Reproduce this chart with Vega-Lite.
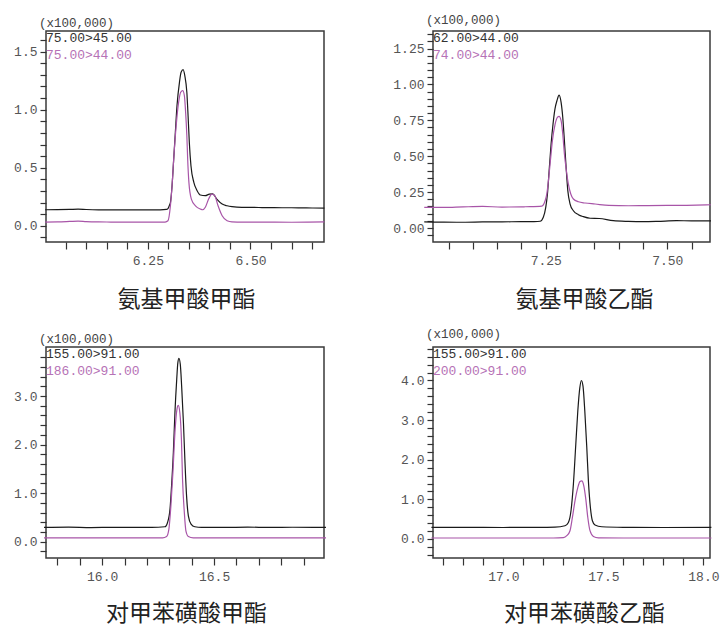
{
  "$schema": "https://vega.github.io/schema/vega-lite/v6.json",
  "background": "white",
  "padding": {"left": 5, "top": 12, "right": 0, "bottom": 0},
  "columns": 2,
  "spacing": {"row": 15, "column": 62},
  "resolve": {"scale": {"color": "independent"}, "legend": {"color": "independent"}},
  "config": {
    "view": {"stroke": "#3a3a3a", "strokeWidth": 1.5},
    "axis": {"grid": false, "domain": false, "tickColor": "#333333", "tickWidth": 1.2, "labelFont": "Liberation Mono", "labelFontSize": 13, "labelColor": "#555555", "labelOverlap": false, "titleFont": "Noto Sans CJK SC", "titleFontWeight": "normal", "titleColor": "#222222"},
    "axisY": {"minExtent": 40, "maxExtent": 40, "tickSize": 6, "labelPadding": 3, "title": null},
    "axisX": {"tickSize": 7, "labelPadding": 5, "titleFontSize": 23},
    "title": {"font": "Liberation Mono", "fontSize": 12.5, "fontWeight": "normal", "color": "#444444", "anchor": "start", "frame": "group", "dx": -7, "offset": 2},
    "legend": {"orient": "top-left", "offset": 0, "padding": 0, "symbolType": "circle", "symbolOpacity": 0, "symbolSize": 0, "symbolStrokeWidth": 0, "labelOffset": -13, "labelFont": "Liberation Mono", "labelFontSize": 13, "rowPadding": 3},
    "line": {"strokeWidth": 1.2, "interpolate": "monotone", "clip": true}
  },
  "concat": [
    {
      "width": 278, "height": 211,
      "title": "(x100,000)",
      "data": {"values": [
        {"t": 6.0, "v": 0.138, "s": "75.00>45.00"}, {"t": 6.03, "v": 0.139, "s": "75.00>45.00"}, {"t": 6.06, "v": 0.141, "s": "75.00>45.00"}, {"t": 6.08, "v": 0.143, "s": "75.00>45.00"}, {"t": 6.10, "v": 0.140, "s": "75.00>45.00"}, {"t": 6.13, "v": 0.137, "s": "75.00>45.00"}, {"t": 6.16, "v": 0.136, "s": "75.00>45.00"}, {"t": 6.19, "v": 0.137, "s": "75.00>45.00"}, {"t": 6.22, "v": 0.136, "s": "75.00>45.00"}, {"t": 6.25, "v": 0.136, "s": "75.00>45.00"}, {"t": 6.28, "v": 0.137, "s": "75.00>45.00"}, {"t": 6.295, "v": 0.141, "s": "75.00>45.00"}, {"t": 6.299, "v": 0.148, "s": "75.00>45.00"}, {"t": 6.303, "v": 0.18, "s": "75.00>45.00"}, {"t": 6.305, "v": 0.20, "s": "75.00>45.00"}, {"t": 6.309, "v": 0.345, "s": "75.00>45.00"}, {"t": 6.313, "v": 0.575, "s": "75.00>45.00"}, {"t": 6.317, "v": 0.805, "s": "75.00>45.00"}, {"t": 6.321, "v": 1.034, "s": "75.00>45.00"}, {"t": 6.327, "v": 1.236, "s": "75.00>45.00"}, {"t": 6.331, "v": 1.322, "s": "75.00>45.00"}, {"t": 6.336, "v": 1.345, "s": "75.00>45.00"}, {"t": 6.340, "v": 1.293, "s": "75.00>45.00"}, {"t": 6.345, "v": 1.15, "s": "75.00>45.00"}, {"t": 6.348, "v": 0.948, "s": "75.00>45.00"}, {"t": 6.351, "v": 0.719, "s": "75.00>45.00"}, {"t": 6.355, "v": 0.517, "s": "75.00>45.00"}, {"t": 6.362, "v": 0.374, "s": "75.00>45.00"}, {"t": 6.370, "v": 0.302, "s": "75.00>45.00"}, {"t": 6.378, "v": 0.265, "s": "75.00>45.00"}, {"t": 6.390, "v": 0.259, "s": "75.00>45.00"}, {"t": 6.400, "v": 0.273, "s": "75.00>45.00"}, {"t": 6.408, "v": 0.275, "s": "75.00>45.00"}, {"t": 6.418, "v": 0.23, "s": "75.00>45.00"}, {"t": 6.431, "v": 0.187, "s": "75.00>45.00"}, {"t": 6.443, "v": 0.172, "s": "75.00>45.00"}, {"t": 6.455, "v": 0.164, "s": "75.00>45.00"}, {"t": 6.479, "v": 0.158, "s": "75.00>45.00"}, {"t": 6.50, "v": 0.158, "s": "75.00>45.00"}, {"t": 6.528, "v": 0.157, "s": "75.00>45.00"}, {"t": 6.55, "v": 0.156, "s": "75.00>45.00"}, {"t": 6.577, "v": 0.155, "s": "75.00>45.00"}, {"t": 6.60, "v": 0.155, "s": "75.00>45.00"}, {"t": 6.625, "v": 0.154, "s": "75.00>45.00"}, {"t": 6.65, "v": 0.153, "s": "75.00>45.00"}, {"t": 6.68, "v": 0.152, "s": "75.00>45.00"},
        {"t": 6.0, "v": 0.032, "s": "75.00>44.00"}, {"t": 6.03, "v": 0.033, "s": "75.00>44.00"}, {"t": 6.06, "v": 0.037, "s": "75.00>44.00"}, {"t": 6.08, "v": 0.040, "s": "75.00>44.00"}, {"t": 6.10, "v": 0.036, "s": "75.00>44.00"}, {"t": 6.13, "v": 0.033, "s": "75.00>44.00"}, {"t": 6.16, "v": 0.032, "s": "75.00>44.00"}, {"t": 6.19, "v": 0.031, "s": "75.00>44.00"}, {"t": 6.22, "v": 0.031, "s": "75.00>44.00"}, {"t": 6.25, "v": 0.031, "s": "75.00>44.00"}, {"t": 6.28, "v": 0.031, "s": "75.00>44.00"}, {"t": 6.292, "v": 0.032, "s": "75.00>44.00"}, {"t": 6.299, "v": 0.043, "s": "75.00>44.00"}, {"t": 6.305, "v": 0.172, "s": "75.00>44.00"}, {"t": 6.309, "v": 0.345, "s": "75.00>44.00"}, {"t": 6.313, "v": 0.575, "s": "75.00>44.00"}, {"t": 6.319, "v": 0.862, "s": "75.00>44.00"}, {"t": 6.325, "v": 1.064, "s": "75.00>44.00"}, {"t": 6.330, "v": 1.15, "s": "75.00>44.00"}, {"t": 6.335, "v": 1.164, "s": "75.00>44.00"}, {"t": 6.339, "v": 1.12, "s": "75.00>44.00"}, {"t": 6.342, "v": 0.978, "s": "75.00>44.00"}, {"t": 6.345, "v": 0.776, "s": "75.00>44.00"}, {"t": 6.347, "v": 0.575, "s": "75.00>44.00"}, {"t": 6.350, "v": 0.374, "s": "75.00>44.00"}, {"t": 6.356, "v": 0.23, "s": "75.00>44.00"}, {"t": 6.366, "v": 0.172, "s": "75.00>44.00"}, {"t": 6.378, "v": 0.144, "s": "75.00>44.00"}, {"t": 6.384, "v": 0.138, "s": "75.00>44.00"}, {"t": 6.390, "v": 0.159, "s": "75.00>44.00"}, {"t": 6.398, "v": 0.23, "s": "75.00>44.00"}, {"t": 6.406, "v": 0.273, "s": "75.00>44.00"}, {"t": 6.413, "v": 0.259, "s": "75.00>44.00"}, {"t": 6.421, "v": 0.172, "s": "75.00>44.00"}, {"t": 6.431, "v": 0.086, "s": "75.00>44.00"}, {"t": 6.443, "v": 0.043, "s": "75.00>44.00"}, {"t": 6.455, "v": 0.033, "s": "75.00>44.00"}, {"t": 6.48, "v": 0.031, "s": "75.00>44.00"}, {"t": 6.52, "v": 0.031, "s": "75.00>44.00"}, {"t": 6.56, "v": 0.031, "s": "75.00>44.00"}, {"t": 6.60, "v": 0.030, "s": "75.00>44.00"}, {"t": 6.64, "v": 0.031, "s": "75.00>44.00"}, {"t": 6.68, "v": 0.033, "s": "75.00>44.00"}
      ]},
      "mark": {"type": "line"},
      "encoding": {
        "x": {"field": "t", "type": "quantitative", "scale": {"domain": [6.002, 6.679], "nice": false, "zero": false},
              "axis": {"values": [6.05, 6.1, 6.15, 6.2, 6.25, 6.3, 6.35, 6.4, 6.45, 6.5, 6.55, 6.6, 6.65], "format": ".2f",
                       "labelExpr": "abs(datum.value*4 - round(datum.value*4)) < 0.001 ? datum.label : ''",
                       "encode": {"ticks": {"y2": {"condition": {"test": "abs(datum.value*4 - round(datum.value*4)) < 0.001", "value": 7}, "value": 4.5}}},
                       "title": "氨基甲酸甲酯", "titlePadding": 21, "titleX": 140}},
        "y": {"field": "v", "type": "quantitative", "scale": {"domain": [-0.14, 1.678], "nice": false, "zero": false},
              "axis": {"values": [-0.1, 0, 0.1, 0.2, 0.3, 0.4, 0.5, 0.6, 0.7, 0.8, 0.9, 1.0, 1.1, 1.2, 1.3, 1.4, 1.5, 1.6], "format": ".1f",
                       "labelExpr": "abs(datum.value*2 - round(datum.value*2)) < 0.001 ? datum.label : ''",
                       "encode": {"ticks": {"x2": {"condition": {"test": "abs(datum.value*2 - round(datum.value*2)) < 0.001", "value": -6}, "value": -3.5}}}}},
        "color": {"field": "s", "type": "nominal", "scale": {"domain": ["75.00>45.00", "75.00>44.00"], "range": ["#1a1a1a", "#a855a8"]},
                  "legend": {"title": null, "labelColor": {"expr": "datum.value === '75.00>45.00' ? '#333333' : '#b672b6'"}}}
      }
    },
    {
      "width": 277, "height": 211,
      "title": "(x100,000)",
      "data": {"values": [
        {"t": 7.0, "v": 0.042, "s": "62.00>44.00"}, {"t": 7.04, "v": 0.041, "s": "62.00>44.00"}, {"t": 7.08, "v": 0.040, "s": "62.00>44.00"}, {"t": 7.12, "v": 0.042, "s": "62.00>44.00"}, {"t": 7.16, "v": 0.043, "s": "62.00>44.00"}, {"t": 7.20, "v": 0.044, "s": "62.00>44.00"}, {"t": 7.225, "v": 0.045, "s": "62.00>44.00"}, {"t": 7.2385, "v": 0.047, "s": "62.00>44.00"}, {"t": 7.245, "v": 0.075, "s": "62.00>44.00"}, {"t": 7.250, "v": 0.144, "s": "62.00>44.00"}, {"t": 7.2535, "v": 0.237, "s": "62.00>44.00"}, {"t": 7.257, "v": 0.40, "s": "62.00>44.00"}, {"t": 7.261, "v": 0.585, "s": "62.00>44.00"}, {"t": 7.265, "v": 0.724, "s": "62.00>44.00"}, {"t": 7.269, "v": 0.829, "s": "62.00>44.00"}, {"t": 7.2734, "v": 0.891, "s": "62.00>44.00"}, {"t": 7.2775, "v": 0.926, "s": "62.00>44.00"}, {"t": 7.2816, "v": 0.875, "s": "62.00>44.00"}, {"t": 7.285, "v": 0.771, "s": "62.00>44.00"}, {"t": 7.2884, "v": 0.608, "s": "62.00>44.00"}, {"t": 7.2919, "v": 0.423, "s": "62.00>44.00"}, {"t": 7.2954, "v": 0.26, "s": "62.00>44.00"}, {"t": 7.3001, "v": 0.167, "s": "62.00>44.00"}, {"t": 7.3069, "v": 0.12, "s": "62.00>44.00"}, {"t": 7.3172, "v": 0.093, "s": "62.00>44.00"}, {"t": 7.3274, "v": 0.079, "s": "62.00>44.00"}, {"t": 7.3412, "v": 0.068, "s": "62.00>44.00"}, {"t": 7.36, "v": 0.066, "s": "62.00>44.00"}, {"t": 7.389, "v": 0.051, "s": "62.00>44.00"}, {"t": 7.42, "v": 0.046, "s": "62.00>44.00"}, {"t": 7.45, "v": 0.044, "s": "62.00>44.00"}, {"t": 7.48, "v": 0.046, "s": "62.00>44.00"}, {"t": 7.519, "v": 0.051, "s": "62.00>44.00"}, {"t": 7.55, "v": 0.050, "s": "62.00>44.00"}, {"t": 7.59, "v": 0.050, "s": "62.00>44.00"},
        {"t": 7.0, "v": 0.144, "s": "74.00>44.00"}, {"t": 7.04, "v": 0.143, "s": "74.00>44.00"}, {"t": 7.08, "v": 0.147, "s": "74.00>44.00"}, {"t": 7.12, "v": 0.150, "s": "74.00>44.00"}, {"t": 7.16, "v": 0.146, "s": "74.00>44.00"}, {"t": 7.20, "v": 0.147, "s": "74.00>44.00"}, {"t": 7.2077, "v": 0.148, "s": "74.00>44.00"}, {"t": 7.242, "v": 0.153, "s": "74.00>44.00"}, {"t": 7.2487, "v": 0.19, "s": "74.00>44.00"}, {"t": 7.2522, "v": 0.237, "s": "74.00>44.00"}, {"t": 7.2555, "v": 0.329, "s": "74.00>44.00"}, {"t": 7.2596, "v": 0.469, "s": "74.00>44.00"}, {"t": 7.2637, "v": 0.608, "s": "74.00>44.00"}, {"t": 7.2693, "v": 0.724, "s": "74.00>44.00"}, {"t": 7.274, "v": 0.771, "s": "74.00>44.00"}, {"t": 7.2775, "v": 0.778, "s": "74.00>44.00"}, {"t": 7.2816, "v": 0.747, "s": "74.00>44.00"}, {"t": 7.285, "v": 0.655, "s": "74.00>44.00"}, {"t": 7.2884, "v": 0.515, "s": "74.00>44.00"}, {"t": 7.2925, "v": 0.399, "s": "74.00>44.00"}, {"t": 7.2966, "v": 0.306, "s": "74.00>44.00"}, {"t": 7.3015, "v": 0.237, "s": "74.00>44.00"}, {"t": 7.3069, "v": 0.202, "s": "74.00>44.00"}, {"t": 7.3172, "v": 0.183, "s": "74.00>44.00"}, {"t": 7.3309, "v": 0.174, "s": "74.00>44.00"}, {"t": 7.3515, "v": 0.167, "s": "74.00>44.00"}, {"t": 7.38, "v": 0.157, "s": "74.00>44.00"}, {"t": 7.42, "v": 0.155, "s": "74.00>44.00"}, {"t": 7.46, "v": 0.156, "s": "74.00>44.00"}, {"t": 7.50, "v": 0.157, "s": "74.00>44.00"}, {"t": 7.54, "v": 0.158, "s": "74.00>44.00"}, {"t": 7.59, "v": 0.162, "s": "74.00>44.00"}
      ]},
      "mark": {"type": "line"},
      "encoding": {
        "x": {"field": "t", "type": "quantitative", "scale": {"domain": [7.018, 7.588], "nice": false, "zero": false},
              "axis": {"values": [7.05, 7.1, 7.15, 7.2, 7.25, 7.3, 7.35, 7.4, 7.45, 7.5, 7.55], "format": ".2f",
                       "labelExpr": "abs(datum.value*4 - round(datum.value*4)) < 0.001 ? datum.label : ''",
                       "encode": {"ticks": {"y2": {"condition": {"test": "abs(datum.value*4 - round(datum.value*4)) < 0.001", "value": 7}, "value": 4.5}}},
                       "title": "氨基甲酸乙酯", "titlePadding": 21, "titleX": 151}},
        "y": {"field": "v", "type": "quantitative", "scale": {"domain": [-0.0975, 1.372], "nice": false, "zero": false},
              "axis": {"values": [-0.05, 0, 0.05, 0.1, 0.15, 0.2, 0.25, 0.3, 0.35, 0.4, 0.45, 0.5, 0.55, 0.6, 0.65, 0.7, 0.75, 0.8, 0.85, 0.9, 0.95, 1.0, 1.05, 1.1, 1.15, 1.2, 1.25, 1.3, 1.35], "format": ".2f",
                       "labelExpr": "abs(datum.value*4 - round(datum.value*4)) < 0.001 ? datum.label : ''",
                       "encode": {"ticks": {"x2": {"condition": {"test": "abs(datum.value*4 - round(datum.value*4)) < 0.001", "value": -6}, "value": -3.5}}}}},
        "color": {"field": "s", "type": "nominal", "scale": {"domain": ["62.00>44.00", "74.00>44.00"], "range": ["#1a1a1a", "#a855a8"]},
                  "legend": {"title": null, "labelColor": {"expr": "datum.value === '62.00>44.00' ? '#333333' : '#b672b6'"}}}
      }
    },
    {
      "width": 278, "height": 211,
      "title": "(x100,000)",
      "data": {"values": [
        {"t": 15.74, "v": 0.294, "s": "155.00>91.00"}, {"t": 15.85, "v": 0.300, "s": "155.00>91.00"}, {"t": 15.95, "v": 0.292, "s": "155.00>91.00"}, {"t": 16.05, "v": 0.296, "s": "155.00>91.00"}, {"t": 16.15, "v": 0.294, "s": "155.00>91.00"}, {"t": 16.221, "v": 0.294, "s": "155.00>91.00"}, {"t": 16.280, "v": 0.308, "s": "155.00>91.00"}, {"t": 16.292, "v": 0.397, "s": "155.00>91.00"}, {"t": 16.303, "v": 0.672, "s": "155.00>91.00"}, {"t": 16.310, "v": 1.15, "s": "155.00>91.00"}, {"t": 16.318, "v": 1.835, "s": "155.00>91.00"}, {"t": 16.325, "v": 2.657, "s": "155.00>91.00"}, {"t": 16.333, "v": 3.343, "s": "155.00>91.00"}, {"t": 16.338, "v": 3.684, "s": "155.00>91.00"}, {"t": 16.343, "v": 3.774, "s": "155.00>91.00"}, {"t": 16.349, "v": 3.651, "s": "155.00>91.00"}, {"t": 16.355, "v": 3.205, "s": "155.00>91.00"}, {"t": 16.363, "v": 2.451, "s": "155.00>91.00"}, {"t": 16.370, "v": 1.629, "s": "155.00>91.00"}, {"t": 16.377, "v": 0.945, "s": "155.00>91.00"}, {"t": 16.385, "v": 0.534, "s": "155.00>91.00"}, {"t": 16.397, "v": 0.364, "s": "155.00>91.00"}, {"t": 16.414, "v": 0.308, "s": "155.00>91.00"}, {"t": 16.444, "v": 0.294, "s": "155.00>91.00"}, {"t": 16.55, "v": 0.295, "s": "155.00>91.00"}, {"t": 16.65, "v": 0.300, "s": "155.00>91.00"}, {"t": 16.75, "v": 0.294, "s": "155.00>91.00"}, {"t": 16.85, "v": 0.298, "s": "155.00>91.00"}, {"t": 17.0, "v": 0.294, "s": "155.00>91.00"},
        {"t": 15.74, "v": 0.078, "s": "186.00>91.00"}, {"t": 16.0, "v": 0.078, "s": "186.00>91.00"}, {"t": 16.2, "v": 0.078, "s": "186.00>91.00"}, {"t": 16.27, "v": 0.080, "s": "186.00>91.00"}, {"t": 16.288, "v": 0.109, "s": "186.00>91.00"}, {"t": 16.298, "v": 0.26, "s": "186.00>91.00"}, {"t": 16.307, "v": 0.74, "s": "186.00>91.00"}, {"t": 16.316, "v": 1.424, "s": "186.00>91.00"}, {"t": 16.325, "v": 2.246, "s": "186.00>91.00"}, {"t": 16.334, "v": 2.726, "s": "186.00>91.00"}, {"t": 16.340, "v": 2.808, "s": "186.00>91.00"}, {"t": 16.347, "v": 2.657, "s": "186.00>91.00"}, {"t": 16.354, "v": 2.11, "s": "186.00>91.00"}, {"t": 16.359, "v": 1.288, "s": "186.00>91.00"}, {"t": 16.367, "v": 0.602, "s": "186.00>91.00"}, {"t": 16.374, "v": 0.226, "s": "186.00>91.00"}, {"t": 16.385, "v": 0.109, "s": "186.00>91.00"}, {"t": 16.407, "v": 0.080, "s": "186.00>91.00"}, {"t": 16.6, "v": 0.078, "s": "186.00>91.00"}, {"t": 17.0, "v": 0.078, "s": "186.00>91.00"}
      ]},
      "mark": {"type": "line"},
      "encoding": {
        "x": {"field": "t", "type": "quantitative", "scale": {"domain": [15.749, 16.991], "nice": false, "zero": false},
              "axis": {"values": [15.8, 15.9, 16.0, 16.1, 16.2, 16.3, 16.4, 16.5, 16.6, 16.7, 16.8, 16.9], "format": ".1f",
                       "labelExpr": "abs(datum.value*2 - round(datum.value*2)) < 0.001 ? datum.label : ''",
                       "encode": {"ticks": {"y2": {"condition": {"test": "abs(datum.value*2 - round(datum.value*2)) < 0.001", "value": 7}, "value": 4.5}}},
                       "title": "对甲苯磺酸甲酯", "titlePadding": 19, "titleX": 140}},
        "y": {"field": "v", "type": "quantitative", "scale": {"domain": [-0.335, 4.01], "nice": false, "zero": false},
              "axis": {"values": [-0.2, 0, 0.2, 0.4, 0.6, 0.8, 1, 1.2, 1.4, 1.6, 1.8, 2, 2.2, 2.4, 2.6, 2.8, 3, 3.2, 3.4, 3.6, 3.8], "format": ".1f",
                       "labelExpr": "abs(datum.value - round(datum.value)) < 0.001 ? datum.label : ''",
                       "encode": {"ticks": {"x2": {"condition": {"test": "abs(datum.value - round(datum.value)) < 0.001", "value": -6}, "value": -3.5}}}}},
        "color": {"field": "s", "type": "nominal", "scale": {"domain": ["155.00>91.00", "186.00>91.00"], "range": ["#1a1a1a", "#a855a8"]},
                  "legend": {"title": null, "labelColor": {"expr": "datum.value === '155.00>91.00' ? '#333333' : '#b672b6'"}}}
      }
    },
    {
      "width": 277, "height": 211,
      "title": "(x100,000)",
      "data": {"values": [
        {"t": 16.64, "v": 0.292, "s": "155.00>91.00"}, {"t": 16.8, "v": 0.295, "s": "155.00>91.00"}, {"t": 17.0, "v": 0.290, "s": "155.00>91.00"}, {"t": 17.15, "v": 0.293, "s": "155.00>91.00"}, {"t": 17.258, "v": 0.300, "s": "155.00>91.00"}, {"t": 17.308, "v": 0.335, "s": "155.00>91.00"}, {"t": 17.325, "v": 0.418, "s": "155.00>91.00"}, {"t": 17.338, "v": 0.712, "s": "155.00>91.00"}, {"t": 17.350, "v": 1.384, "s": "155.00>91.00"}, {"t": 17.362, "v": 2.39, "s": "155.00>91.00"}, {"t": 17.372, "v": 3.228, "s": "155.00>91.00"}, {"t": 17.382, "v": 3.814, "s": "155.00>91.00"}, {"t": 17.390, "v": 4.0, "s": "155.00>91.00"}, {"t": 17.398, "v": 3.857, "s": "155.00>91.00"}, {"t": 17.407, "v": 3.228, "s": "155.00>91.00"}, {"t": 17.417, "v": 2.304, "s": "155.00>91.00"}, {"t": 17.425, "v": 1.467, "s": "155.00>91.00"}, {"t": 17.435, "v": 0.795, "s": "155.00>91.00"}, {"t": 17.445, "v": 0.46, "s": "155.00>91.00"}, {"t": 17.458, "v": 0.352, "s": "155.00>91.00"}, {"t": 17.492, "v": 0.309, "s": "155.00>91.00"}, {"t": 17.6, "v": 0.295, "s": "155.00>91.00"}, {"t": 17.8, "v": 0.290, "s": "155.00>91.00"}, {"t": 18.04, "v": 0.292, "s": "155.00>91.00"},
        {"t": 16.64, "v": 0.025, "s": "200.00>91.00"}, {"t": 17.0, "v": 0.025, "s": "200.00>91.00"}, {"t": 17.25, "v": 0.025, "s": "200.00>91.00"}, {"t": 17.30, "v": 0.035, "s": "200.00>91.00"}, {"t": 17.317, "v": 0.083, "s": "200.00>91.00"}, {"t": 17.333, "v": 0.209, "s": "200.00>91.00"}, {"t": 17.345, "v": 0.543, "s": "200.00>91.00"}, {"t": 17.358, "v": 0.964, "s": "200.00>91.00"}, {"t": 17.372, "v": 1.298, "s": "200.00>91.00"}, {"t": 17.383, "v": 1.449, "s": "200.00>91.00"}, {"t": 17.392, "v": 1.467, "s": "200.00>91.00"}, {"t": 17.402, "v": 1.341, "s": "200.00>91.00"}, {"t": 17.412, "v": 1.006, "s": "200.00>91.00"}, {"t": 17.422, "v": 0.543, "s": "200.00>91.00"}, {"t": 17.433, "v": 0.209, "s": "200.00>91.00"}, {"t": 17.450, "v": 0.065, "s": "200.00>91.00"}, {"t": 17.475, "v": 0.030, "s": "200.00>91.00"}, {"t": 17.6, "v": 0.025, "s": "200.00>91.00"}, {"t": 18.04, "v": 0.025, "s": "200.00>91.00"}
      ]},
      "mark": {"type": "line"},
      "encoding": {
        "x": {"field": "t", "type": "quantitative", "scale": {"domain": [16.648, 18.033], "nice": false, "zero": false},
              "axis": {"values": [16.7, 16.8, 16.9, 17.0, 17.1, 17.2, 17.3, 17.4, 17.5, 17.6, 17.7, 17.8, 17.9, 18.0], "format": ".1f",
                       "labelExpr": "abs(datum.value*2 - round(datum.value*2)) < 0.001 ? datum.label : ''",
                       "encode": {"ticks": {"y2": {"condition": {"test": "abs(datum.value*2 - round(datum.value*2)) < 0.001", "value": 7}, "value": 4.5}}},
                       "title": "对甲苯磺酸乙酯", "titlePadding": 19, "titleX": 151}},
        "y": {"field": "v", "type": "quantitative", "scale": {"domain": [-0.48, 4.845], "nice": false, "zero": false},
              "axis": {"values": [-0.4, -0.2, 0, 0.2, 0.4, 0.6, 0.8, 1, 1.2, 1.4, 1.6, 1.8, 2, 2.2, 2.4, 2.6, 2.8, 3, 3.2, 3.4, 3.6, 3.8, 4, 4.2, 4.4, 4.6, 4.8], "format": ".1f",
                       "labelExpr": "abs(datum.value - round(datum.value)) < 0.001 ? datum.label : ''",
                       "encode": {"ticks": {"x2": {"condition": {"test": "abs(datum.value - round(datum.value)) < 0.001", "value": -6}, "value": -3.5}}}}},
        "color": {"field": "s", "type": "nominal", "scale": {"domain": ["155.00>91.00", "200.00>91.00"], "range": ["#1a1a1a", "#a855a8"]},
                  "legend": {"title": null, "labelColor": {"expr": "datum.value === '155.00>91.00' ? '#333333' : '#b672b6'"}}}
      }
    }
  ]
}
